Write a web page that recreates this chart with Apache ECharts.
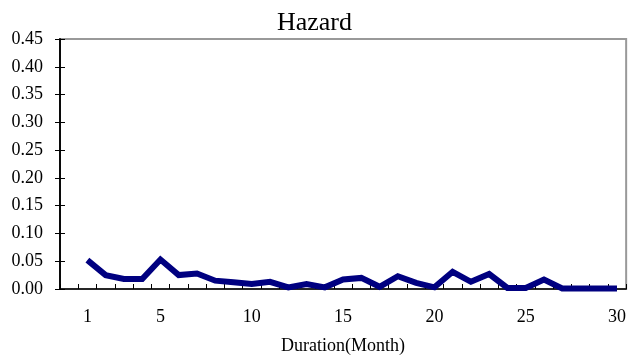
<!DOCTYPE html>
<html><head><meta charset="utf-8">
<script src="https://cdn.jsdelivr.net/npm/echarts@6/dist/echarts.min.js"></script>
<style>html,body{margin:0;padding:0;background:#fff}#c{width:629px;height:362px}</style>
</head><body><div id="c"></div>
<script>
const categories = ['0','1','2','3','4','5','6','7','8','9','10','11','12','13','14','15','16','17','18','19','20','21','22','23','24','25','26','27','28','29','30'];
const hazard = [null,0.052,0.025,0.018,0.018,0.053,0.025,0.028,0.015,0.012,0.009,0.013,0.003,0.009,0.003,0.017,0.020,0.004,0.023,0.011,0.003,0.031,0.013,0.027,0.002,0.002,0.017,0.001,0.001,0.001,0.001];
const xTickLabels = ['1','5','10','15','20','25','30'];
const yTicks = {min:0, max:0.45, interval:0.05};

const font = 'Liberation Serif, Times New Roman, serif';
const chart = echarts.init(document.getElementById('c'), null, {renderer:'canvas'});
chart.setOption({
  animation:false,
  backgroundColor:'#fff',
  title:{text:'Hazard', left:'center', top:5, textStyle:{fontFamily:font, fontSize:26, fontWeight:'normal', color:'#000'}},
  grid:{left:60, right:2, top:39, bottom:73, show:true, borderColor:'#999', borderWidth:2},
  xAxis:{type:'category', data:categories, boundaryGap:true,
    axisLine:{lineStyle:{color:'#000', width:1.5}},
    axisTick:{show:true, inside:true, length:5, interval:0, lineStyle:{color:'#000'}},
    axisLabel:{interval:0, margin:19, fontFamily:font, fontSize:18, color:'#000',
      formatter:v => xTickLabels.includes(v) ? v : ''},
    name:'Duration(Month)', nameLocation:'middle', nameGap:48,
    nameTextStyle:{fontFamily:font, fontSize:18, color:'#000'}},
  yAxis:[{type:'value', min:yTicks.min, max:yTicks.max, interval:yTicks.interval,
    axisLine:{show:true, lineStyle:{color:'#000', width:1.5}},
    axisTick:{show:true, length:5, lineStyle:{color:'#000'}},
    splitLine:{show:false},
    axisLabel:{margin:17, fontFamily:font, fontSize:18, color:'#000', formatter:v => v.toFixed(2)}},
   {type:'value', position:'left', min:yTicks.min, max:yTicks.max, interval:yTicks.interval,
    axisLine:{show:true, lineStyle:{color:'#000', width:1.5}}, axisTick:{show:true, inside:true, length:5, lineStyle:{color:'#000'}},
    splitLine:{show:false}, axisLabel:{show:false}}],
  series:[{type:'line', data:hazard, yAxisIndex:0, symbol:'none', connectNulls:false,
    lineStyle:{color:'#000080', width:6, join:'miter'}}]
});
</script></body></html>
